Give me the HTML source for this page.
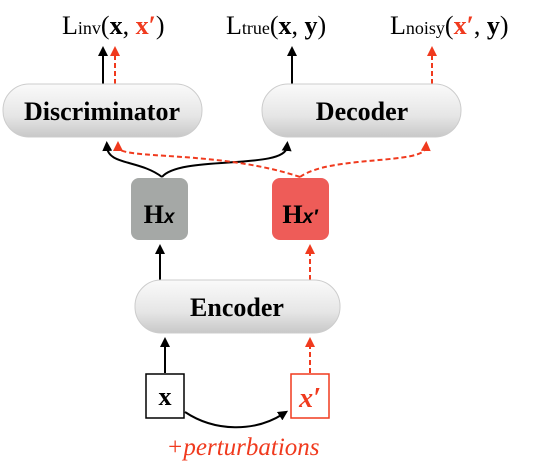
<!DOCTYPE html><html><head><style>body{margin:0;width:540px;height:467px;background:#fff;overflow:hidden}
text{font-family:"Liberation Serif",serif}</style></head><body>
<svg width="540" height="467" viewBox="0 0 540 467">
<defs>
<linearGradient id="g" x1="0" y1="0" x2="0" y2="1"><stop offset="0" stop-color="#fafafa"/><stop offset="0.6" stop-color="#e6e6e6"/><stop offset="1" stop-color="#c8c8c8"/></linearGradient>
<marker id="ab" markerWidth="10" markerHeight="10" refX="4" refY="5" orient="auto" markerUnits="userSpaceOnUse"><path d="M0,0 L10,5 L0,10 z" fill="#000"/></marker>
<marker id="ar" markerWidth="10" markerHeight="10" refX="4" refY="5" orient="auto" markerUnits="userSpaceOnUse"><path d="M0,0 L10,5 L0,10 z" fill="#f03a1e"/></marker>
</defs>
<g font-size="26">
<text x="62" y="34">L<tspan font-size="18">inv</tspan>(<tspan font-weight="bold">x</tspan>, <tspan font-weight="bold" fill="#f03a1e">x′</tspan>)</text>
<text x="226" y="34">L<tspan font-size="18">true</tspan>(<tspan font-weight="bold">x</tspan>, <tspan font-weight="bold">y</tspan>)</text>
<text x="390" y="34">L<tspan font-size="18">noisy</tspan>(<tspan font-weight="bold" fill="#f03a1e">x′</tspan>, <tspan font-weight="bold">y</tspan>)</text>
</g>
<g stroke-width="2" fill="none">
<line x1="103" y1="84" x2="103" y2="52" stroke="#000" marker-end="url(#ab)"/>
<line x1="115" y1="84" x2="115" y2="52" stroke="#f03a1e" stroke-dasharray="5,3" marker-end="url(#ar)"/>
<line x1="292" y1="84" x2="292" y2="52" stroke="#000" marker-end="url(#ab)"/>
<line x1="432" y1="84" x2="432" y2="52" stroke="#f03a1e" stroke-dasharray="5,3" marker-end="url(#ar)"/>
<path d="M162,177 C140,160 108,165 107,147" stroke="#000" marker-end="url(#ab)"/>
<path d="M162,177 C180,155 285,170 287,147" stroke="#000" marker-end="url(#ab)"/>
<path d="M300,177 C220,150 118,160 118,147" stroke="#f03a1e" stroke-dasharray="5,3" marker-end="url(#ar)"/>
<path d="M300,177 C330,155 425,165 426,147" stroke="#f03a1e" stroke-dasharray="5,3" marker-end="url(#ar)"/>
<line x1="160" y1="280" x2="160" y2="250" stroke="#000" marker-end="url(#ab)"/>
<line x1="310" y1="280" x2="310" y2="250" stroke="#f03a1e" stroke-dasharray="5,3" marker-end="url(#ar)"/>
<line x1="165" y1="373" x2="165" y2="343" stroke="#000" marker-end="url(#ab)"/>
<line x1="310" y1="373" x2="310" y2="343" stroke="#f03a1e" stroke-dasharray="5,3" marker-end="url(#ar)"/>
<path d="M185,412 C215,432 255,432 283,414" stroke="#000" marker-end="url(#ab)"/>
</g>
<g stroke="#ccc" stroke-width="1" fill="url(#g)">
<rect x="3" y="84" width="199" height="53" rx="26"/>
<rect x="262" y="84" width="199" height="53" rx="26"/>
<rect x="135" y="280" width="205" height="53" rx="26"/>
</g>
<g font-size="26" font-weight="bold" text-anchor="middle">
<text x="102" y="120">Discriminator</text>
<text x="362" y="120">Decoder</text>
<text x="237" y="316">Encoder</text>
</g>
<rect x="131" y="178" width="57" height="62" rx="8" fill="#a5a8a6"/>
<rect x="272" y="178" width="57" height="62" rx="8" fill="#ee5c58"/>
<text x="159" y="223" font-size="26" font-weight="bold" text-anchor="middle">H<tspan font-size="19" font-family="Liberation Sans" font-style="italic">x</tspan></text>
<text x="300" y="223" font-size="26" font-weight="bold" text-anchor="middle">H<tspan font-size="19" font-family="Liberation Sans" font-style="italic">x′</tspan></text>
<rect x="146" y="374" width="38" height="44" fill="#fff" stroke="#000" stroke-width="1.5"/>
<rect x="291" y="374" width="38" height="44" fill="#fff" stroke="#f03a1e" stroke-width="1.5"/>
<text x="165" y="405" font-size="26" font-weight="bold" text-anchor="middle">x</text>
<text x="310" y="407" font-size="28" font-weight="bold" font-style="italic" fill="#f03a1e" text-anchor="middle">x′</text>
<text x="243" y="455" font-size="25" font-style="italic" fill="#f03a1e" text-anchor="middle">+perturbations</text>
</svg></body></html>
